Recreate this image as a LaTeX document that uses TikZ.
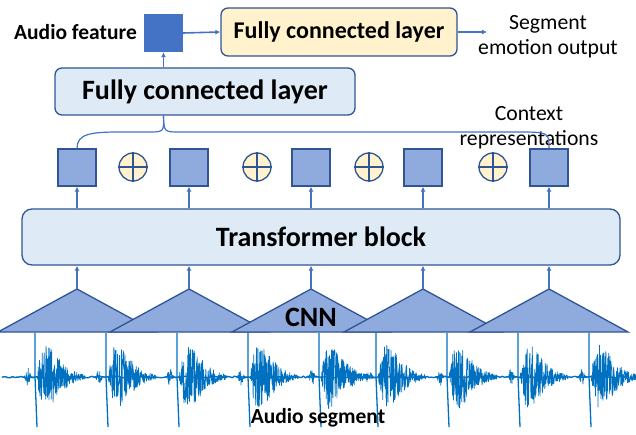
\documentclass[tikz,border=0pt]{standalone}
\usepackage{fontspec}
\setmainfont{Carlito}
\usetikzlibrary{arrows.meta}
\definecolor{darkblue}{HTML}{2F5597}
\definecolor{midblue}{HTML}{4472C4}
\definecolor{paleblue}{HTML}{DEEBF7}
\definecolor{softblue}{HTML}{8FAADC}
\definecolor{paleyellow}{HTML}{FFF2CC}
\definecolor{wave}{HTML}{0070C0}

\begin{document}
\begin{tikzpicture}[x=1pt,y=-1pt,
        layerbox/.style={draw=darkblue,line width=1.3pt,rounded corners=7pt,fill=paleblue,
            inner sep=0pt,font=\bfseries\fontsize{28}{34}\selectfont},
        ctxbox/.style={draw=darkblue,line width=1.3pt,fill=softblue,inner sep=0pt,
            minimum width=38pt,minimum height=37pt},
        sumnode/.style={circle,draw=darkblue,line width=1.3pt,fill=paleyellow,inner sep=0pt,
            minimum size=28pt},
        flow/.style={-{Latex[length=5pt,width=5pt]},midblue,line width=1.6pt},
        captext/.style={font=\bfseries\fontsize{21.5}{26}\selectfont},
        notetext/.style={font=\fontsize{21.7}{25}\selectfont,align=center}]
                    \useasboundingbox (0,0) rectangle (636,435);
                    \node[fill=midblue,inner sep=0pt,minimum width=39pt,minimum height=38pt] (feat) at (163.5,33) {};
                    \node[captext] (featlabel) at (75.5,32) {Audio feature};
                    \node[layerbox,fill=paleyellow,minimum width=236pt,minimum height=48pt,
                        font=\bfseries\fontsize{24}{29}\selectfont] (fcout) at (339,32) {Fully connected layer};
                    \coordinate (emo) at (487,32);
                    \node[notetext] (emolabel) at (548,37) {Segment\\emotion output};
                    \node[layerbox,minimum width=300pt,minimum height=47pt] (fcin) at (205,91.5) {Fully connected layer};
                    \node[notetext] (ctxlabel) at (529,128) {Context\\representations};
                    \draw[flow] (fcin.north -| feat) -- (feat.south);
                    \draw[flow] (feat.east) -- (fcout.west);
                    \draw[flow] (fcout.east) -- (emo);
                    \foreach \i/\px in {1/77,2/189,3/311,4/423,5/549} {
                        \node[ctxbox] (s\i) at (\px,167.5) {};
                    }
                    \foreach \i/\px in {1/133,2/257,3/369,4/493} {
                        \node[sumnode] (c\i) at (\px,167) {};
                        \draw[darkblue,line width=1.3pt] (c\i.north) -- (c\i.south) (c\i.west) -- (c\i.east);
                    }
                    \coordinate (cusp) at (fcin.south -| feat);
                    \draw[midblue,line width=1.2pt] (s1.north) .. controls (77,134) and (90,132) .. (120,132)
                        -- (148,132) .. controls (164,132) .. (cusp);
                    \draw[midblue,line width=1.2pt] (cusp) .. controls (164,132) .. (180,132)
                        -- (515,132) .. controls (549,132) .. (s5.north);
                    \node[layerbox,rounded corners=10pt,minimum width=598pt,minimum height=56pt] (tb) at (321,237) {Transformer block};
                    \foreach \i in {1,...,5} {
                        \draw[flow] (s\i |- tb.north) -- (s\i.south);
                    }
                    \pgfmathsetseed{7}
                    \draw[wave,line width=1.4pt] plot[domain=2:628,samples=300] (\x,{377+0.8*rand});
                    \foreach \px in {35,106,177,248,319,376,447,518,589} {
                        \draw[wave,line width=0.7pt,line join=round] plot[domain=-14:48,samples=250]
                            ({\px+2+\x},{377+(9*exp(-min(((\x+9)/2.5)^2,40))+(\x>0)*32*(\x/9)*exp(1-\x/9))*rand});
                        \draw[wave,line width=1.3pt] (\px,333) -- (\px,377) -- (\px+2,427);
                    }
                    \foreach \i/\px in {1/77,2/189,3/311,4/423,5/549} {
                        \coordinate (t\i) at (\px,289);
                        \draw[darkblue,line width=1.3pt,fill=softblue] (t\i) -- ++(-79,43) -- ++(158,0) -- cycle;
                        \draw[flow] (t\i) -- (t\i |- tb.south);
                    }
                    \node[captext,font=\bfseries\fontsize{28}{34}\selectfont] (cnn) at (311,317) {CNN};
                    \node[captext] (seg) at (318,418) {Audio segment};
\end{tikzpicture}
\end{document}
